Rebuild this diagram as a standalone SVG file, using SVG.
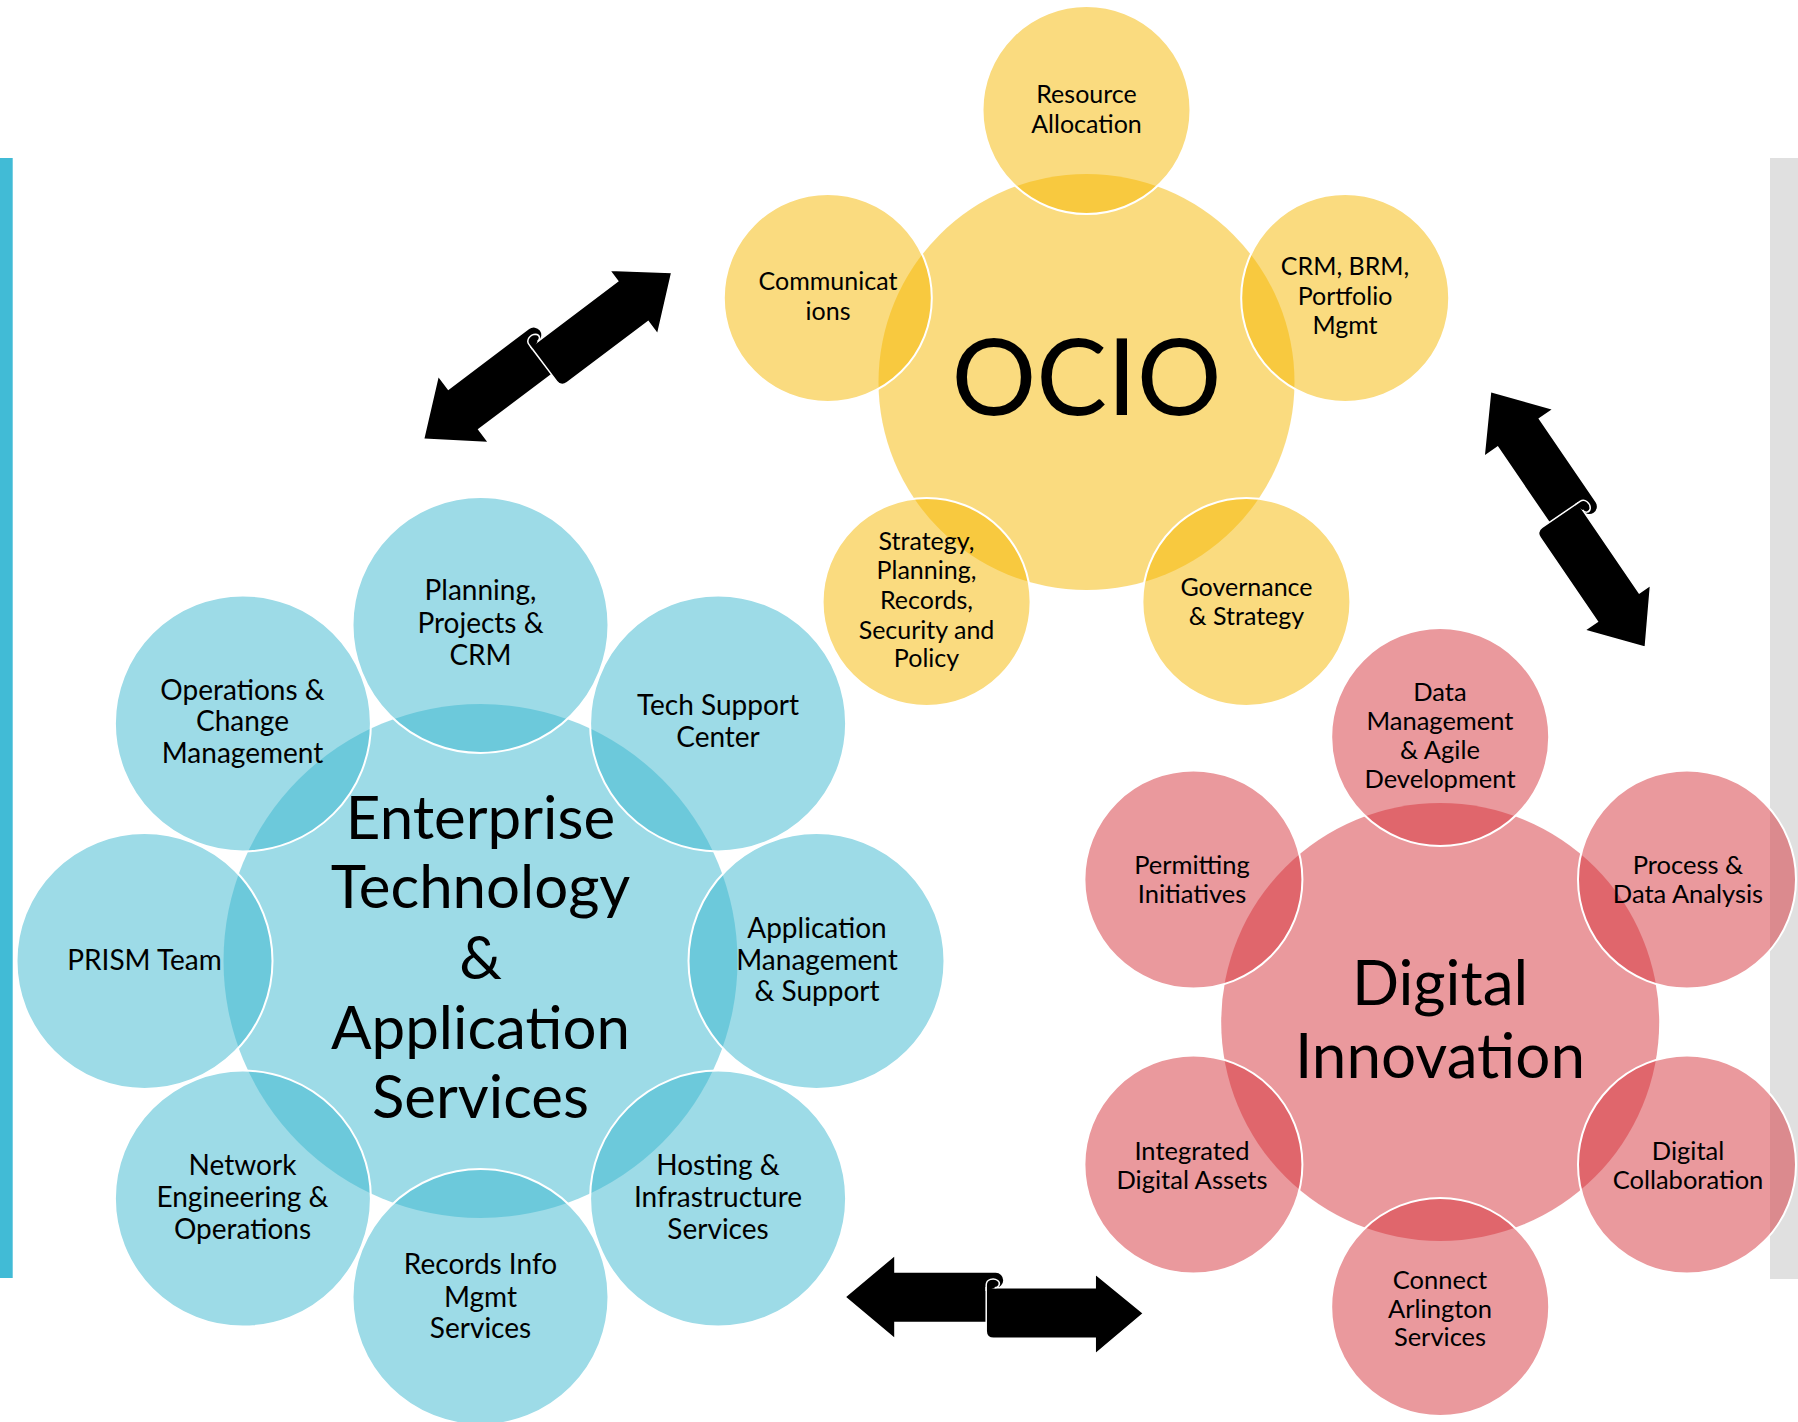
<svg xmlns="http://www.w3.org/2000/svg" width="1798" height="1422" viewBox="0 0 1798 1422">
<style>
.yb{fill:#F6B700;fill-opacity:0.5}
.ys{fill:#F6B700;fill-opacity:0.5;stroke:#fff;stroke-width:2}
.bb{fill:#3CB8CF;fill-opacity:0.5}
.bs{fill:#3CB8CF;fill-opacity:0.5;stroke:#fff;stroke-width:2}
.pb{fill:#D6343B;fill-opacity:0.5}
.ps{fill:#D6343B;fill-opacity:0.5;stroke:#fff;stroke-width:2}
text{font-family:Lato,"Liberation Sans",sans-serif;fill:#000;text-anchor:middle}
.ty{font-size:25px}
.tb{font-size:28px}
.tp{font-size:25.5px}
.big{font-size:60px}
.big2{font-size:62px}
.ocio{font-size:106px}
</style>
<defs>
<g id="dblarrow">
<path d="M-148.5,-8 L-100.5,-48.3 L-100.5,-32.3 L1,-32.3 A7.5,7.5 0 0 1 1,-17.3 L-8.5,-17.3 L-8.5,16.7 L-100.5,16.7 L-100.5,32.3 Z" fill="#000"/>
<path d="M-8.5,-17.3 L100.5,-17.3 L100.5,-31 L148.8,8.3 L100.5,49 L100.5,33.3 L-1,33.3 Q-8.5,33.3 -8.5,26 Z" fill="#000" stroke="#fff" stroke-width="1.5"/>
<path d="M-8.5,-14 L-8.5,-20 C-8.5,-26 -1,-27.5 3,-24.5 C6.5,-21.5 4,-17.3 0,-17.3" fill="#000" stroke="#fff" stroke-width="1.5"/>
</g>
</defs>
<rect x="0" y="158" width="12.7" height="1120" fill="#41BBD6"/>
<rect x="1770" y="158" width="28" height="1121" fill="#E0E0E0"/>
<g id="ocio">
<circle class="yb" cx="1086.5" cy="382" r="208"/>
<g id="ocio-resource"><circle class="ys" cx="1086.5" cy="110" r="104"/><text class="ty" x="1086.5" y="103">Resource</text><text class="ty" x="1086.5" y="133">Allocation</text></g>
<g id="ocio-comms"><circle class="ys" cx="827.8" cy="298" r="104"/><text class="ty" x="828" y="290">Communicat</text><text class="ty" x="828" y="320">ions</text></g>
<g id="ocio-crm"><circle class="ys" cx="1345.2" cy="298" r="104"/><text class="ty" x="1345" y="275">CRM, BRM,</text><text class="ty" x="1345" y="305">Portfolio</text><text class="ty" x="1345" y="334">Mgmt</text></g>
<g id="ocio-strategy"><circle class="ys" cx="926.6" cy="602" r="104"/><text class="ty" x="926.5" y="550">Strategy,</text><text class="ty" x="926.5" y="579">Planning,</text><text class="ty" x="926.5" y="609">Records,</text><text class="ty" x="926.5" y="639">Security and</text><text class="ty" x="926.5" y="667">Policy</text></g>
<g id="ocio-governance"><circle class="ys" cx="1246.4" cy="602" r="104"/><text class="ty" x="1246.5" y="596">Governance</text><text class="ty" x="1246.5" y="625">&amp; Strategy</text></g>
<text class="ocio" x="1086.5" y="415">OCIO</text>
</g>
<g id="etas">
<circle class="bb" cx="480.5" cy="961" r="257"/>
<g id="etas-planning"><circle class="bs" cx="480.5" cy="625" r="128"/><text class="tb" x="480.5" y="600">Planning,</text><text class="tb" x="480.5" y="633">Projects &amp;</text><text class="tb" x="480.5" y="665">CRM</text></g>
<g id="etas-techsupport"><circle class="bs" cx="718.1" cy="723.4" r="128"/><text class="tb" x="718" y="715">Tech Support</text><text class="tb" x="718" y="747">Center</text></g>
<g id="etas-appmgmt"><circle class="bs" cx="816.5" cy="961" r="128"/><text class="tb" x="817" y="938">Application</text><text class="tb" x="817" y="970">Management</text><text class="tb" x="817" y="1001">&amp; Support</text></g>
<g id="etas-hosting"><circle class="bs" cx="718.1" cy="1198.6" r="128"/><text class="tb" x="718" y="1175">Hosting &amp;</text><text class="tb" x="718" y="1207">Infrastructure</text><text class="tb" x="718" y="1239">Services</text></g>
<g id="etas-records"><circle class="bs" cx="480.5" cy="1297" r="128"/><text class="tb" x="480.5" y="1274">Records Info</text><text class="tb" x="480.5" y="1307">Mgmt</text><text class="tb" x="480.5" y="1338">Services</text></g>
<g id="etas-network"><circle class="bs" cx="242.9" cy="1198.6" r="128"/><text class="tb" x="242.5" y="1175">Network</text><text class="tb" x="242.5" y="1207">Engineering &amp;</text><text class="tb" x="242.5" y="1239">Operations</text></g>
<g id="etas-prism"><circle class="bs" cx="144.5" cy="961" r="128"/><text class="tb" x="144.5" y="970">PRISM Team</text></g>
<g id="etas-operations"><circle class="bs" cx="242.9" cy="723.4" r="128"/><text class="tb" x="242.5" y="700">Operations &amp;</text><text class="tb" x="242.5" y="731">Change</text><text class="tb" x="242.5" y="763">Management</text></g>
<text class="big" x="480.5" y="839">Enterprise</text>
<text class="big" x="480.5" y="908">Technology</text>
<text class="big" x="480.5" y="979">&amp;</text>
<text class="big" x="480.5" y="1049">Application</text>
<text class="big" x="480.5" y="1118">Services</text>
</g>
<g id="digital">
<circle class="pb" cx="1440.2" cy="1022" r="219"/>
<g id="di-data"><circle class="ps" cx="1440.2" cy="737" r="109"/><text class="tp" x="1440" y="701">Data</text><text class="tp" x="1440" y="730">Management</text><text class="tp" x="1440" y="759">&amp; Agile</text><text class="tp" x="1440" y="788">Development</text></g>
<g id="di-process"><circle class="ps" cx="1687" cy="879.5" r="109"/><text class="tp" x="1688" y="874">Process &amp;</text><text class="tp" x="1688" y="903">Data Analysis</text></g>
<g id="di-collab"><circle class="ps" cx="1687" cy="1164.5" r="109"/><text class="tp" x="1688" y="1160">Digital</text><text class="tp" x="1688" y="1189">Collaboration</text></g>
<g id="di-connect"><circle class="ps" cx="1440.2" cy="1307" r="109"/><text class="tp" x="1440" y="1289">Connect</text><text class="tp" x="1440" y="1318">Arlington</text><text class="tp" x="1440" y="1346">Services</text></g>
<g id="di-integrated"><circle class="ps" cx="1193.4" cy="1164.5" r="109"/><text class="tp" x="1192" y="1160">Integrated</text><text class="tp" x="1192" y="1189">Digital Assets</text></g>
<g id="di-permitting"><circle class="ps" cx="1193.4" cy="879.5" r="109"/><text class="tp" x="1192" y="874">Permitting</text><text class="tp" x="1192" y="903">Initiatives</text></g>
<text class="big2" x="1440" y="1005">Digital</text>
<text class="big2" x="1440" y="1078">Innovation</text>
</g>
<g id="connectors">
<use href="#dblarrow" transform="translate(547.9,355.5) rotate(-37)"/>
<use href="#dblarrow" transform="translate(1568.3,519.7) rotate(55.7)"/>
<use href="#dblarrow" transform="translate(994.7,1305)"/>
</g>
</svg>
